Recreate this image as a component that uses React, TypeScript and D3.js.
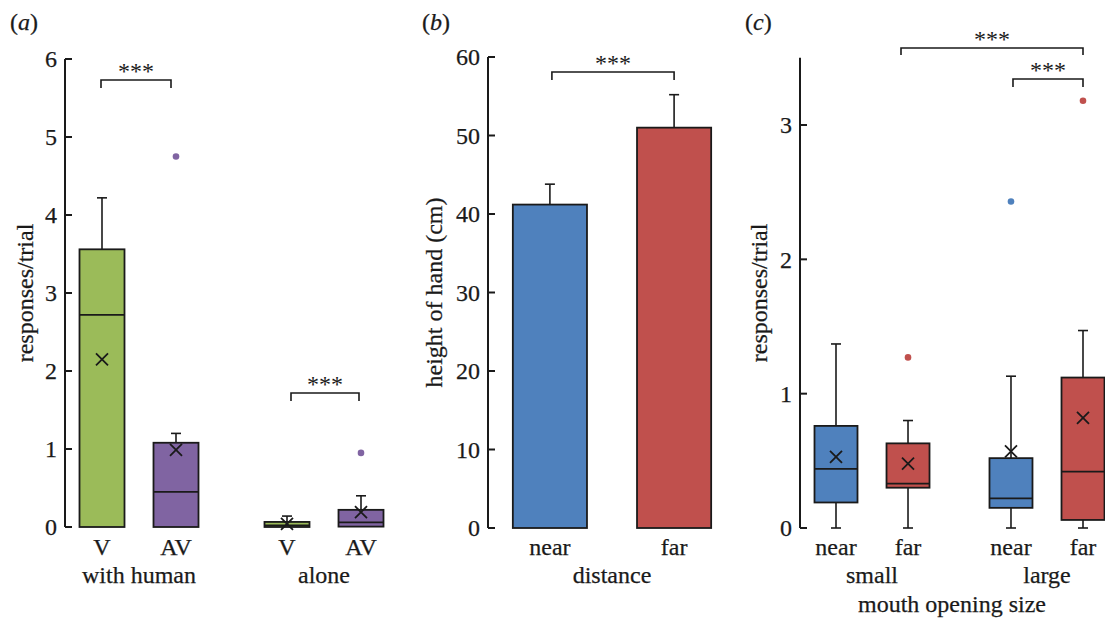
import React from "react";
import * as d3 from "d3";

// ---------- Panel (a) data ----------
const aGroups = ["with human", "alone"];
const aCats = ["V", "AV", "V", "AV"];
const aGroupOf = [0, 0, 1, 1];
const aQ1 = [0, 0, 0, 0.005];
const aMedian = [2.72, 0.45, 0.02, 0.06];
const aQ3 = [3.56, 1.08, 0.065, 0.22];
const aWhiskHigh = [4.22, 1.2, 0.14, 0.4];
const aWhiskLow = [0, 0, 0, 0];
const aMean = [2.15, 0.99, 0.04, 0.19];
const aOutliers = [[], [4.75], [], [0.95]];
const aColors = ["#9bbb59", "#8064a2", "#9bbb59", "#8064a2"];
const aTicks = [0, 1, 2, 3, 4, 5, 6];

// ---------- Panel (b) data ----------
const bCats = ["near", "far"];
const bMeans = [41.2, 51.0];
const bErrTop = [43.8, 55.2];
const bColors = ["#4f81bd", "#c0504d"];
const bTicks = [0, 10, 20, 30, 40, 50, 60];

// ---------- Panel (c) data ----------
const cGroups = ["small", "large"];
const cCats = ["near", "far", "near", "far"];
const cGroupOf = [0, 0, 1, 1];
const cQ1 = [0.19, 0.3, 0.15, 0.06];
const cMedian = [0.44, 0.33, 0.22, 0.42];
const cQ3 = [0.76, 0.63, 0.52, 1.12];
const cWhiskHigh = [1.37, 0.8, 1.13, 1.47];
const cWhiskLow = [0, 0, 0, 0];
const cMean = [0.53, 0.48, 0.57, 0.82];
const cOutliers = [[], [1.27], [2.43], [3.18]];
const cColors = ["#4f81bd", "#c0504d", "#4f81bd", "#c0504d"];
const cTicks = [0, 1, 2, 3];

const FONT = "'Liberation Serif', 'Times New Roman', serif";
const FS = 24;
const INK = "#1a1a1a";
const TXT = { fontSize: FS, fontFamily: FONT, fill: INK, stroke: INK, strokeWidth: 0.25 } as any;

function slotIndex(groupOf: number[], i: number, gap: number) {
  return i + groupOf[i] * gap;
}

function YAxis({ x, y, ticks, top, bottom, label, labelX }: any) {
  return (
    <g>
      <line x1={x} x2={x} y1={top} y2={bottom} stroke={INK} strokeWidth={2} />
      {ticks.map((t: number) => (
        <g key={t}>
          <line x1={x} x2={x + 7} y1={y(t)} y2={y(t)} stroke={INK} strokeWidth={2} />
          <text x={x - 8} y={y(t)} dy="0.35em" textAnchor="end" {...TXT}>
            {t}
          </text>
        </g>
      ))}
      <text
        transform={`translate(${labelX},${(top + bottom) / 2}) rotate(-90)`}
        textAnchor="middle"
        dy="0.35em"
        {...TXT}
      >
        {label}
      </text>
    </g>
  );
}

function Bracket({ x1, x2, y, leg, starsY }: any) {
  return (
    <g>
      <path d={`M${x1},${y + leg}V${y}H${x2}V${y + leg}`} fill="none" stroke={INK} strokeWidth={1.6} />
      <text x={(x1 + x2) / 2} y={starsY} textAnchor="middle" {...TXT} strokeWidth={0}>
        ***
      </text>
    </g>
  );
}

function BoxSet({ xs, y, q1, med, q3, wh, wl, mean, outl, colors, width }: any) {
  return (
    <g>
      {xs.map((cx: number, i: number) => {
        const hw = width / 2;
        return (
          <g key={i}>
            <line x1={cx} x2={cx} y1={y(q3[i])} y2={y(wh[i])} stroke={INK} strokeWidth={1.6} />
            <line x1={cx - 5} x2={cx + 5} y1={y(wh[i])} y2={y(wh[i])} stroke={INK} strokeWidth={1.6} />
            {q1[i] > wl[i] + 0.02 && (
              <g>
                <line x1={cx} x2={cx} y1={y(q1[i])} y2={y(wl[i])} stroke={INK} strokeWidth={1.6} />
                <line x1={cx - 5} x2={cx + 5} y1={y(wl[i])} y2={y(wl[i])} stroke={INK} strokeWidth={1.6} />
              </g>
            )}
            <rect
              x={cx - hw}
              y={y(q3[i])}
              width={width}
              height={y(q1[i]) - y(q3[i])}
              fill={colors[i]}
              stroke={INK}
              strokeWidth={1.8}
            />
            <line x1={cx - hw} x2={cx + hw} y1={y(med[i])} y2={y(med[i])} stroke={INK} strokeWidth={1.8} />
            <path
              d={`M${cx - 6},${y(mean[i]) - 6}L${cx + 6},${y(mean[i]) + 6}M${cx - 6},${y(mean[i]) + 6}L${cx + 6},${y(mean[i]) - 6}`}
              stroke={INK}
              strokeWidth={1.8}
              fill="none"
            />
            {outl[i].map((o: number, k: number) => (
              <circle key={k} cx={cx} cy={y(o)} r={3.3} fill={colors[i]} />
            ))}
          </g>
        );
      })}
    </g>
  );
}

function PanelLabel({ x, letter }: any) {
  return (
    <text x={x} y={30} {...TXT}>
      (<tspan fontStyle="italic">{letter}</tspan>)
    </text>
  );
}

export default function App() {
  // Panel a
  const aAxisX = 65;
  const ya = d3.scaleLinear().domain([0, 6]).range([527, 59]);
  const aGap = 0.5;
  const xa = d3.scaleLinear().domain([0, 3 + aGap]).range([102, 361]);
  const aXs = aCats.map((_, i) => xa(slotIndex(aGroupOf, i, aGap)));
  const aGroupX = aGroups.map((_, g) => d3.mean(aXs.filter((__, i) => aGroupOf[i] === g)) as number);

  // Panel b
  const bAxisX = 488;
  const yb = d3.scaleLinear().domain([0, 60]).range([528, 57]);
  const xb = d3.scaleBand().domain(bCats).range([488, 736]).paddingInner(0.403).paddingOuter(0.2);
  const bW = xb.bandwidth();

  // Panel c
  const cAxisX = 800;
  const yc = d3.scaleLinear().domain([0, 3]).range([528, 125]);
  const cGap = 0.43;
  const xc = d3.scaleLinear().domain([0, 3 + cGap]).range([836, 1083]);
  const cXs = cCats.map((_, i) => xc(slotIndex(cGroupOf, i, cGap)));
  const cGroupX = cGroups.map((_, g) => d3.mean(cXs.filter((__, i) => cGroupOf[i] === g)) as number);

  return (
    <div style={{ position: "absolute", left: 0, top: 0 }}>
      <svg width={1105} height={618} style={{ display: "block", background: "#fff" }}>
        {/* ----- (a) ----- */}
        <PanelLabel x={10} letter="a" />
        <YAxis x={aAxisX} y={ya} ticks={aTicks} top={ya(6)} bottom={ya(0)} label="responses/trial" labelX={25} />
        <BoxSet
          xs={aXs}
          y={ya}
          q1={aQ1}
          med={aMedian}
          q3={aQ3}
          wh={aWhiskHigh}
          wl={aWhiskLow}
          mean={aMean}
          outl={aOutliers}
          colors={aColors}
          width={45}
        />
        {aCats.map((c, i) => (
          <text key={i} x={aXs[i]} y={555} textAnchor="middle" {...TXT}>
            {c}
          </text>
        ))}
        {aGroups.map((g, i) => (
          <text key={g} x={aGroupX[i]} y={583} textAnchor="middle" {...TXT}>
            {g}
          </text>
        ))}
        <Bracket x1={aXs[0] - 1} x2={aXs[1] - 5} y={80} leg={8} starsY={79} />
        <Bracket x1={aXs[2] + 4} x2={aXs[3] - 2} y={393} leg={8} starsY={392} />

        {/* ----- (b) ----- */}
        <PanelLabel x={422} letter="b" />
        <YAxis x={bAxisX} y={yb} ticks={bTicks} top={yb(60)} bottom={yb(0)} label="height of hand (cm)" labelX={434} />
        {bCats.map((c, i) => {
          const x0 = xb(c) as number;
          const cx = x0 + bW / 2;
          return (
            <g key={c}>
              <line x1={cx} x2={cx} y1={yb(bMeans[i])} y2={yb(bErrTop[i])} stroke={INK} strokeWidth={1.6} />
              <line x1={cx - 5} x2={cx + 5} y1={yb(bErrTop[i])} y2={yb(bErrTop[i])} stroke={INK} strokeWidth={1.6} />
              <rect
                x={x0}
                y={yb(bMeans[i])}
                width={bW}
                height={yb(0) - yb(bMeans[i])}
                fill={bColors[i]}
                stroke={INK}
                strokeWidth={1.8}
              />
              <text x={cx} y={555} textAnchor="middle" {...TXT}>
                {c}
              </text>
            </g>
          );
        })}
        <text x={612} y={583} textAnchor="middle" {...TXT}>
          distance
        </text>
        <Bracket
          x1={(xb("near") as number) + bW / 2 + 2}
          x2={(xb("far") as number) + bW / 2}
          y={72}
          leg={8}
          starsY={71}
        />

        {/* ----- (c) ----- */}
        <PanelLabel x={745} letter="c" />
        <YAxis x={cAxisX} y={yc} ticks={cTicks} top={yc(3.5)} bottom={yc(0)} label="responses/trial" labelX={759} />
        <BoxSet
          xs={cXs}
          y={yc}
          q1={cQ1}
          med={cMedian}
          q3={cQ3}
          wh={cWhiskHigh}
          wl={cWhiskLow}
          mean={cMean}
          outl={cOutliers}
          colors={cColors}
          width={43}
        />
        {cCats.map((c, i) => (
          <text key={i} x={cXs[i]} y={555} textAnchor="middle" {...TXT}>
            {c}
          </text>
        ))}
        {cGroups.map((g, i) => (
          <text key={g} x={cGroupX[i]} y={583} textAnchor="middle" {...TXT}>
            {g}
          </text>
        ))}
        <text x={952} y={612} textAnchor="middle" {...TXT}>
          mouth opening size
        </text>
        <Bracket x1={901} x2={cXs[3]} y={48} leg={7} starsY={47} />
        <Bracket x1={cXs[2] + 2} x2={cXs[3]} y={79} leg={8} starsY={78} />
      </svg>
    </div>
  );
}
